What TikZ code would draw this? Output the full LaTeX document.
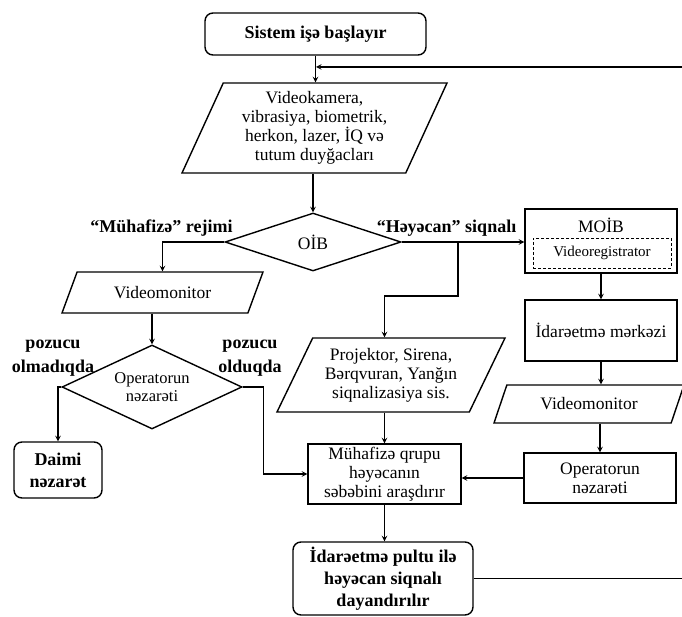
\documentclass[tikz,border=0pt]{standalone}
\usepackage{fontspec}
\setmainfont{Liberation Serif}
\usetikzlibrary{arrows,shapes.geometric}

\begin{document}
\begin{tikzpicture}[>=stealth,x=1pt,y=-1pt,line width=1.4pt,
  every node/.style={font=\fontsize{17.5}{19}\selectfont,align=center,inner sep=0pt},
  blk/.style={draw,rectangle},
  rblk/.style={draw,rectangle,rounded corners=8pt,font=\bfseries\fontsize{18}{22}\selectfont},
  para/.style={draw,trapezium,trapezium left angle=#1,trapezium right angle={180-#1},trapezium stretches body},
  dia/.style={draw,diamond},
  lbl/.style={font=\bfseries\fontsize{18}{24}\selectfont}]
  \useasboundingbox (0,0) rectangle (682,617);

  % left column and centre
  \node[rblk,minimum width=221,minimum height=42] (start) at (315.5,34) {Sistem işə başlayır};
  \node[para={60.5},minimum width=265,minimum height=90] (sens) at (314.5,128) {Videokamera,\\ vibrasiya, biometrik,\\ herkon, lazer, İQ və\\ tutum duyğacları};
  \node[dia,aspect=3,minimum width=176,minimum height=58] (oib) at (313,242) {OİB};
  \node[para={39.4},minimum width=201,minimum height=41] (vml) at (162.5,292.5) {Videomonitor};
  \node[dia,aspect=2.1,minimum width=180,minimum height=84,font=\fontsize{16.5}{18}\selectfont] (opl) at (152,387) {Operatorun\\ nəzarəti};
  \node[rblk,minimum width=88,minimum height=56] (daimi) at (58,470) {Daimi\\ nəzarət};
  \node[para={56.5},minimum width=228,minimum height=74] (proj) at (391,375) {Projektor, Sirena,\\ Bərqvuran, Yanğın\\ siqnalizasiya sis.};
  \node[blk,minimum width=153,minimum height=60] (muh) at (384.5,474) {Mühafizə qrupu\\ həyəcanın\\ səbəbini araşdırır};
  \node[rblk,minimum width=180,minimum height=73] (stop) at (383,578.5) {İdarəetmə pultu ilə\\ həyəcan siqnalı\\ dayandırılır};

  % right column
  \node[blk,minimum width=152,minimum height=64] (moib) at (601,241) {};
  \node (moibt) at (601,225) {MOİB};
  \node[blk,densely dashed,line width=0.8pt,minimum width=138,minimum height=30,font=\fontsize{15}{17}\selectfont] (vreg) at (602,253) {Videoregistrator};
  \node[blk,minimum width=152,minimum height=61] (idm) at (601,330.5) {İdarəetmə mərkəzi};
  \node[para={44},minimum width=190,minimum height=38] (vmr) at (589,404) {Videomonitor};
  \node[blk,minimum width=152,minimum height=50] (opr) at (600,478) {Operatorun\\ nəzarəti};

  % branch labels
  \node[lbl] (mlab) at (161.5,228) {“Mühafizə” rejimi};
  \node[lbl] (hlab) at (446.5,228) {“Həyəcan” siqnalı};
  \node[lbl] (ylab) at (53,358) {pozucu\\ olmadıqda};
  \node[lbl] (vlab) at (250,358) {pozucu\\ olduqda};

  \coordinate (fb) at (316,67);
  \coordinate (rb) at (684,67);
  \coordinate (br) at (458,242);

  \draw[->] (start.south) -- (start.south |- sens.north);
  \draw[->] (stop.east) -| (rb) -- (fb);
  \draw[->] (oib.north |- sens.south) -- (oib.north);
  \draw[->] (oib.west) -| (vml.north);
  \draw[->] (oib.east) -- (oib.east -| moib.west);
  \draw[->] (br) -- ++(0,54) -| (muh |- proj.north);
  \draw[->] (muh |- proj.south) -- (muh.north);
  \draw[->] (opl.north |- vml.south) -- (opl.north);
  \draw[->] (opl.west) -| (daimi.north);
  \draw[->] (opl.east) -- ++(21,0) |- (muh.west);
  \draw[->] (moib.south) -- (idm.north);
  \draw[->] (idm.south) -- (idm.south |- vmr.north);
  \draw[->] (opr.north |- vmr.south) -- (opr.north);
  \draw[->] (opr.west) -- (opr.west -| muh.east);
  \draw[->] (muh.south) -- (muh.south |- stop.north);
\end{tikzpicture}
\end{document}
